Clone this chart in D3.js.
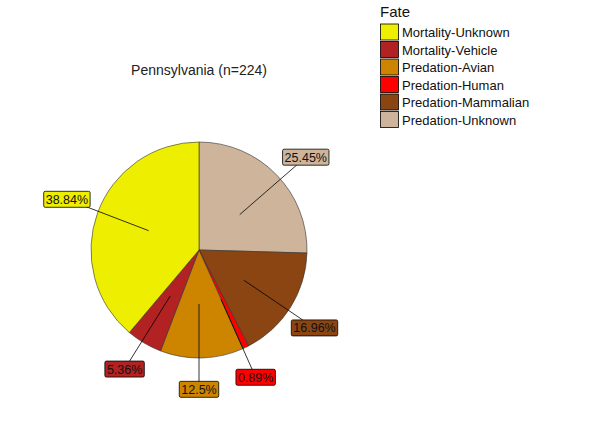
<!DOCTYPE html>
<html><head><meta charset="utf-8">
<script src="https://cdn.jsdelivr.net/npm/d3@7"></script>
<style>body{margin:0;background:#fff}text{font-family:Arial,"Liberation Sans",sans-serif}</style>
</head><body><svg id="c" width="612" height="425"></svg>
<script>
const categories = ["Mortality-Unknown","Mortality-Vehicle","Predation-Avian","Predation-Human","Predation-Mammalian","Predation-Unknown"];
const values = [38.84, 5.36, 12.5, 0.89, 16.96, 25.45];
const labels = ["38.84%","5.36%","12.5%","0.89%","16.96%","25.45%"];
const colors = ["#EEEE00","#B22222","#CD8500","#FF0000","#8B4513","#CDB49A"];
// label direction (degrees clockwise from top) and distance factor (repelled labels)
const labelAngle = [291, 212, 180, 156, 124, 49];
const labelDist = [1.31, 1.3, 1.29, 1.29, 1.29, 1.31];

const svg = d3.select("#c");
const cx = 199, cy = 250, R = 108;
svg.append("text").attr("x", cx).attr("y", 75).attr("text-anchor","middle").attr("font-size",14).attr("fill","#222").text("Pennsylvania (n=224)");

const order = d3.range(categories.length).reverse();
const pie = d3.pie().sort(null).value(i => values[i]);
const arcs = pie(order);
const arc = d3.arc().innerRadius(0).outerRadius(R);
const g = svg.append("g").attr("transform", `translate(${cx},${cy})`);
g.selectAll("path").data(arcs).join("path").attr("d", arc)
  .attr("fill", d => colors[d.data]).attr("stroke", "#333").attr("stroke-width", 0.6);

const toRad = a => a * Math.PI / 180;
const pt = (a, r) => [r * Math.sin(toRad(a)), -r * Math.cos(toRad(a))];
categories.forEach((c, i) => {
  const [x1, y1] = pt(labelAngle[i], R * 0.5);
  const [x2, y2] = pt(labelAngle[i], R * labelDist[i]);
  g.append("line").attr("x1", x1).attr("y1", y1).attr("x2", x2).attr("y2", y2).attr("stroke", "#000").attr("stroke-width", 0.8);
  const t = g.append("text").attr("x", x2).attr("y", y2 + 4.5).attr("text-anchor","middle").attr("font-size",12.5).attr("fill","#111").text(labels[i]);
  const b = t.node().getBBox();
  g.insert("rect", () => t.node()).attr("x", b.x - 2).attr("y", y2 - 8).attr("width", b.width + 4).attr("height", 16)
    .attr("rx", 1.5).attr("fill", colors[i]).attr("stroke", "#000").attr("stroke-width", 0.8);
});

const leg = svg.append("g").attr("transform","translate(380,0)");
leg.append("text").attr("x",0).attr("y",17).attr("font-size",15).attr("fill","#111").text("Fate");
categories.forEach((c, i) => {
  const y = 24 + i * 17.5;
  leg.append("rect").attr("x",0.5).attr("y",y).attr("width",18).attr("height",16).attr("fill",colors[i]).attr("stroke","#000").attr("stroke-width",0.8);
  leg.append("text").attr("x",22).attr("y",y+13).attr("font-size",13).attr("fill","#111").text(c);
});
</script></body></html>
